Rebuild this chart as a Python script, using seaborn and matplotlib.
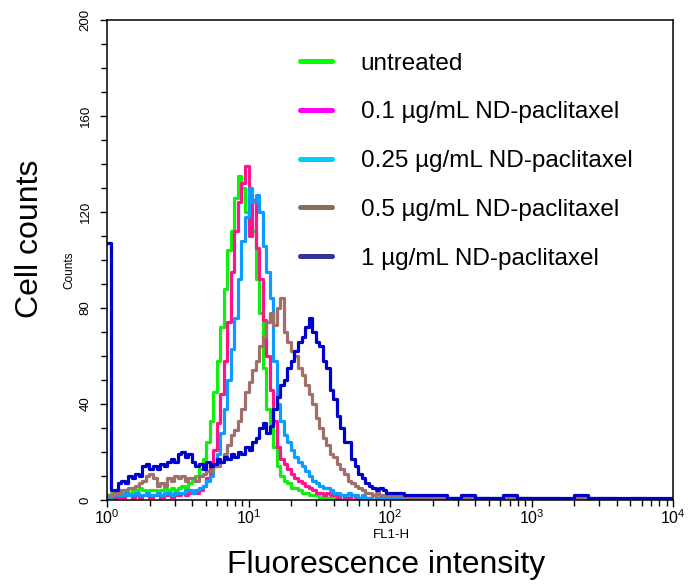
import numpy as np
import pandas as pd
import seaborn as sns
import matplotlib.pyplot as plt
from matplotlib.lines import Line2D
from matplotlib.ticker import MultipleLocator, LogLocator, NullFormatter

# histogram counts
# bins: 0.025 decade from 10^0 to 10^2, then 0.1 decade up to 10^4
labels = ['untreated', '0.1 µg/mL ND-paclitaxel', '0.25 µg/mL ND-paclitaxel',
          '0.5 µg/mL ND-paclitaxel', '1 µg/mL ND-paclitaxel']

green_core = [2, 3, 3, 4, 3, 4, 3, 4, 4, 5, 4, 3, 4, 4, 3, 4, 5, 4, 5, 4,
              5, 6, 5, 7, 8, 10, 13, 17, 24, 33, 45, 58, 72, 88, 104, 112, 126, 135, 130, 120,
              116, 112, 92, 78, 55, 38, 32, 22, 14, 10, 8, 7, 5, 5, 4, 3, 3, 2, 2, 2,
              1, 2, 1, 1, 1, 1, 0, 1, 1, 0, 1, 0, 0, 1, 0, 0, 0, 0, 0, 0]
pink_core = [1, 2, 1, 2, 1, 2, 2, 1, 2, 1, 2, 2, 1, 2, 2, 1, 2, 2, 1, 2,
             2, 3, 2, 3, 3, 3, 4, 6, 9, 14, 21, 32, 44, 58, 74, 95, 112, 124, 132, 139,
             110, 125, 105, 92, 75, 60, 46, 33, 22, 17, 15, 13, 11, 9, 8, 7, 6, 5, 4, 3,
             3, 2, 3, 2, 2, 1, 2, 1, 1, 2, 1, 1, 1, 1, 1, 0, 1, 1, 0, 1]
cyan_core = [1, 2, 2, 2, 2, 3, 2, 2, 3, 2, 2, 3, 2, 2, 3, 2, 3, 3, 2, 3,
             3, 3, 4, 4, 3, 4, 5, 6, 8, 10, 14, 19, 28, 38, 50, 63, 76, 92, 108, 118,
             130, 124, 127, 120, 106, 95, 84, 58, 40, 33, 27, 24, 21, 18, 16, 14, 12, 10, 8, 7,
             6, 5, 5, 4, 3, 3, 2, 2, 3, 2, 2, 1, 2, 1, 1, 2, 1, 1, 1, 1]
brown_core = [2, 2, 3, 3, 4, 4, 5, 5, 6, 7, 8, 10, 11, 9, 6, 7, 6, 9, 8, 10,
              9, 10, 8, 9, 9, 8, 10, 11, 12, 12, 14, 14, 16, 19, 23, 27, 29, 33, 38, 45,
              49, 54, 58, 64, 68, 74, 78, 73, 80, 84, 70, 66, 62, 60, 55, 52, 48, 44, 40, 34,
              30, 26, 23, 19, 18, 15, 13, 11, 8, 7, 6, 5, 4, 3, 3, 2, 3, 2, 2, 2]
blue_core = [107, 4, 4, 7, 8, 7, 10, 9, 11, 10, 14, 15, 13, 14, 13, 15, 14, 16, 17, 16,
             19, 20, 18, 19, 16, 14, 15, 13, 16, 14, 15, 17, 16, 18, 17, 19, 18, 20, 19, 22,
             21, 24, 26, 30, 32, 28, 31, 38, 43, 48, 50, 55, 58, 62, 66, 68, 72, 76, 70, 66,
             64, 58, 55, 46, 42, 35, 30, 24, 24, 17, 14, 11, 9, 7, 6, 5, 4, 5, 4, 3]

green_tail = [0, 0, 0, 0, 0, 0, 0, 0, 0, 0, 0, 0, 0, 0, 0, 0, 0, 0, 0, 0]
pink_tail = [1, 0, 1, 0, 0, 1, 0, 0, 0, 0, 0, 0, 0, 0, 0, 0, 0, 0, 0, 0]
cyan_tail = [1, 1, 1, 0, 1, 0, 1, 0, 0, 1, 0, 0, 0, 0, 0, 0, 0, 0, 0, 0]
brown_tail = [2, 1, 1, 1, 1, 1, 1, 1, 1, 1, 1, 1, 0, 1, 1, 1, 0, 1, 0, 0]
blue_tail = [3, 2, 2, 2, 1, 2, 1, 1, 2, 1, 1, 1, 1, 2, 1, 1, 1, 1, 1, 1]

line_colors = ['#11ee11', '#ff148c', '#0a9cff', '#a0706a', '#0000cc']
legend_colors = ['#00ff00', '#ff00ff', '#00ccff', '#8c6e54', '#333399']

log_edges = np.r_[np.linspace(0, 2, 81)[:-1], np.linspace(2, 4, 21)]
edges = 10 ** log_edges

sns.set_theme(style='ticks')
plt.rcParams['font.family'] = ['Liberation Sans', 'DejaVu Sans']
plt.rcParams['text.color'] = 'black'
plt.rcParams['xtick.color'] = 'black'
plt.rcParams['ytick.color'] = 'black'

fig = plt.figure(figsize=(6.88, 5.85), dpi=100)
ax = fig.add_axes([107 / 688, 85 / 585, 566 / 688, 480 / 585])

series = [(green_core, green_tail), (pink_core, pink_tail), (cyan_core, cyan_tail),
          (brown_core, brown_tail), (blue_core, blue_tail)]
for (core, tail), col in zip(series, line_colors):
    counts = core + tail
    df = pd.DataFrame({'fl': edges, 'n': counts + [counts[-1]]})
    sns.lineplot(data=df, x='fl', y='n', drawstyle='steps-post', color=col,
                 lw=2.3, estimator=None, ax=ax)

ax.set_xscale('log')
ax.set_xlim(1, 1e4)
ax.set_ylim(0, 200)
ax.set_xlabel('')
ax.set_ylabel('')

ax.set_xticks([1, 10, 100, 1000, 10000])
ax.set_xticklabels([r'$\mathregular{10^{%d}}$' % i for i in range(5)], fontsize=11.5)
ax.xaxis.set_minor_locator(LogLocator(base=10, subs=np.arange(2, 10)))
ax.xaxis.set_minor_formatter(NullFormatter())
ax.set_yticks([0, 40, 80, 120, 160, 200])
ax.yaxis.set_minor_locator(MultipleLocator(10))
ax.tick_params(axis='y', labelsize=9.5, labelrotation=90, pad=6)
for t in ax.get_yticklabels():
    t.set_va('center')
ax.tick_params(which='both', direction='out', color='black', labelcolor='black', width=1.0)
ax.tick_params(which='major', length=5)
ax.tick_params(which='minor', length=4)
ax.tick_params(axis='x', pad=1)
for s in ax.spines.values():
    s.set_color('black')
    s.set_linewidth(1.1)

handles = [Line2D([], [], color=c, lw=3.6) for c in legend_colors]
ax.legend(handles, labels, loc='upper left', bbox_to_anchor=(0.341, 0.932),
          frameon=False, fontsize=17.5, handlelength=1.3, handletextpad=1.2,
          labelspacing=1.1, borderpad=0, borderaxespad=0, labelcolor='black')

fig.text(391 / 688, 1 - 535 / 585, 'FL1-H', fontsize=9.5, ha='center', va='center')
fig.text(69 / 688, 1 - 270 / 585, 'Counts', rotation=90, fontsize=8.5, ha='center', va='center')
fig.text(386 / 688, 1 - 565 / 585, 'Fluorescence intensity', fontsize=23, ha='center', va='center')
fig.text(30 / 688, 1 - 239 / 585, 'Cell counts', rotation=90, fontsize=23, ha='center', va='center')

fig.savefig('out.png', dpi=100)
